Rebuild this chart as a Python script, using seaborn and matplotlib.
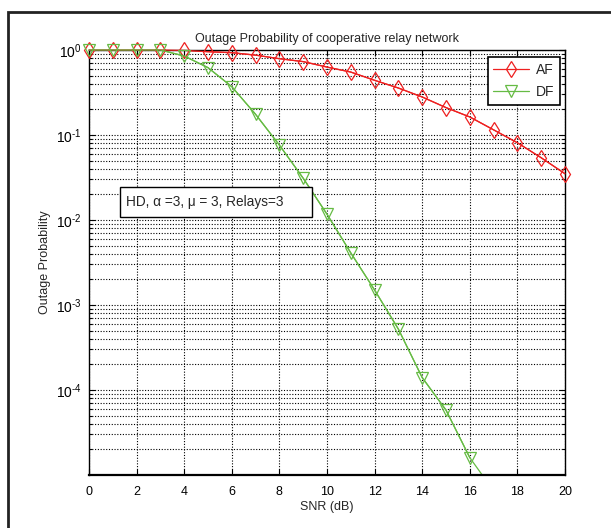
import matplotlib
matplotlib.use("Agg")
import matplotlib.pyplot as plt
import matplotlib.ticker as mticker
from matplotlib.patches import Rectangle
import numpy as np
import pandas as pd
import seaborn as sns

snr_db = list(range(0, 21))
af_outage = [1.0, 1.0, 1.0, 1.0, 0.99, 0.955, 0.93, 0.87, 0.79, 0.73, 0.63,
             0.55, 0.44, 0.357, 0.28, 0.21, 0.163, 0.115, 0.081, 0.054, 0.035]
df_outage = [1.0, 1.0, 1.0, 1.0, 0.85, 0.62, 0.37, 0.175, 0.076, 0.031, 0.0117,
             0.0041, 0.0015, 5.2e-4, 1.4e-4, 5.8e-5, 1.6e-5, 6.5e-6, 2.0e-6, 6.0e-7, 1.5e-7]
series_names = ["AF", "DF"]
series_colors = ["#ee2020", "#66bb44"]
series_markers = ["d", "v"]
y_ticks = [1e0, 1e-1, 1e-2, 1e-3, 1e-4]

data = pd.DataFrame({
    "snr": snr_db * 2,
    "outage": af_outage + df_outage,
    "scheme": ["AF"] * len(snr_db) + ["DF"] * len(snr_db),
})
y_min, y_max = 1e-5, 1

sns.set_theme(style="ticks")
plt.rcParams["font.family"] = ["Liberation Sans", "DejaVu Sans"]
plt.rcParams["mathtext.fontset"] = "custom"
plt.rcParams["mathtext.rm"] = "Liberation Sans"
plt.rcParams["mathtext.it"] = "Liberation Sans:italic"
plt.rcParams["axes.unicode_minus"] = False

fig = plt.figure(figsize=(6.11, 5.28), dpi=100)
ax = fig.add_axes([89 / 611, 53 / 528, 476 / 611, 425 / 528])

for name, color, marker in zip(series_names, series_colors, series_markers):
    sub = data[data["scheme"] == name]
    # line (clipped to the axes)
    sns.lineplot(data=sub, x="snr", y="outage", ax=ax, color=color, linewidth=0.9)
    # markers drawn unclipped, only for visible points
    vis = sub[sub["outage"] >= y_min]
    sns.lineplot(data=vis, x="snr", y="outage", ax=ax, label=name, color=color,
                 marker=marker, markersize=8, markerfacecolor="none",
                 markeredgecolor=color, markeredgewidth=0.9, linewidth=0.9,
                 clip_on=False, zorder=4)

ax.set_yscale("log")
ax.set_xlim(0, 20)
ax.set_ylim(y_min, y_max)
ax.set_xticks(range(0, 21, 2))
ax.yaxis.set_major_locator(mticker.FixedLocator(y_ticks))
ax.yaxis.set_major_formatter(mticker.FuncFormatter(
    lambda v, pos: "$10^{%s}$" % str(int(round(np.log10(v)))).replace("-", "\u2010")))
ax.yaxis.set_minor_locator(mticker.LogLocator(base=10, subs=range(2, 10), numticks=20))
ax.yaxis.set_minor_formatter(mticker.NullFormatter())

ax.grid(True, which="major", axis="x", color="black", linestyle=(0, (1, 1.5)), linewidth=0.8)
ax.grid(True, which="both", axis="y", color="black", linestyle=(0, (1, 1.5)), linewidth=0.8)
ax.set_axisbelow(True)

ax.tick_params(which="both", direction="in", top=True, right=True, labelsize=9,
               colors="black", width=0.8)
ax.tick_params(which="major", length=4)
ax.tick_params(which="minor", length=2)
ax.tick_params(axis="x", pad=8)
ax.tick_params(axis="y", labelsize=10, pad=5)
for s in ax.spines.values():
    s.set_color("black")
    s.set_linewidth(1.0)
ax.spines["bottom"].set_linewidth(1.6)

ax.set_title("Outage Probability of cooperative relay network", fontsize=9, pad=6)
ax.set_xlabel("SNR (dB)", fontsize=9, labelpad=2)
ax.set_ylabel("Outage Probability", fontsize=9, labelpad=4)

leg = ax.legend(loc="upper right", bbox_to_anchor=(0.99, 0.983), fontsize=10,
                frameon=True, fancybox=False, handlelength=2.6, borderpad=0.4,
                labelspacing=0.6, handletextpad=0.5, borderaxespad=0)
leg.get_frame().set_edgecolor("black")
leg.get_frame().set_linewidth(1.2)
leg.get_frame().set_facecolor("white")
leg.get_frame().set_alpha(1)
leg.set_zorder(10)

box = Rectangle((31 / 476, 258 / 425), 192 / 476, 30 / 425, transform=ax.transAxes,
                facecolor="white", edgecolor="black", linewidth=1.0, zorder=5)
ax.add_patch(box)
ax.text(37 / 476, 273 / 425, "HD, \u03b1 =3, \u03bc = 3, Relays=3", transform=ax.transAxes,
        fontsize=9.8, va="center", ha="left", zorder=6)

frame = Rectangle((8 / 611, -0.05), 1.0, 1.05 - 12 / 528, transform=fig.transFigure,
                  facecolor="none", edgecolor="#222222", linewidth=2.0)
fig.patches.append(frame)

fig.savefig("out.png", dpi=100)
